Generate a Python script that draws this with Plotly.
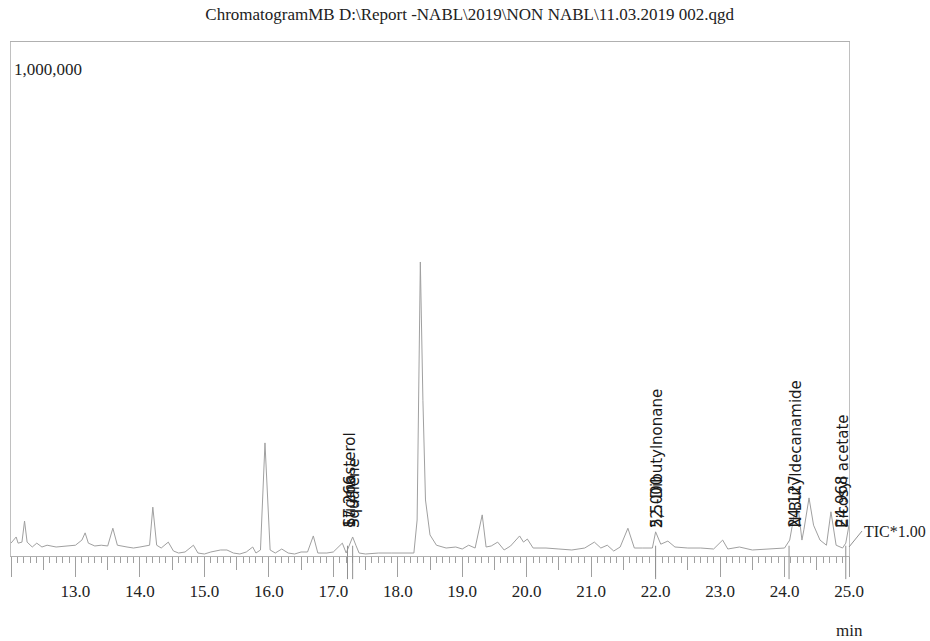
import plotly.graph_objects as go

# Retention time (min) and intensity
times = [12.00, 12.08, 12.11, 12.17, 12.21, 12.25, 12.33, 12.40, 12.48, 12.56, 12.70, 12.90,
         13.00, 13.10, 13.15, 13.20, 13.30, 13.40, 13.50, 13.58, 13.65, 13.80, 13.90, 14.00,
         14.10, 14.15, 14.20, 14.26, 14.33, 14.44, 14.52, 14.60, 14.70, 14.83, 14.90, 15.00,
         15.10, 15.25, 15.35, 15.45, 15.55, 15.65, 15.75, 15.80, 15.87, 15.94, 16.02, 16.10,
         16.20, 16.30, 16.40, 16.50, 16.60, 16.69, 16.76, 16.90, 17.00, 17.14, 17.20, 17.25,
         17.30, 17.35, 17.40, 17.50, 17.70, 17.90, 18.10, 18.25, 18.30, 18.35, 18.39, 18.43,
         18.50, 18.60, 18.75, 18.90, 19.00, 19.10, 19.20, 19.31, 19.37, 19.45, 19.55, 19.65,
         19.75, 19.89, 19.95, 20.01, 20.10, 20.30, 20.50, 20.70, 20.90, 21.05, 21.15, 21.25,
         21.35, 21.45, 21.57, 21.67, 21.80, 21.95, 22.00, 22.08, 22.19, 22.30, 22.50, 22.70,
         22.90, 23.04, 23.12, 23.30, 23.50, 23.70, 23.85, 24.00, 24.08, 24.15, 24.22, 24.27,
         24.30, 24.38, 24.45, 24.55, 24.65, 24.72, 24.80, 24.90, 24.95, 25.00]
intensity = [25000, 37000, 25000, 27000, 68000, 27000, 17500, 25000, 17500, 21000, 17500, 19500,
             21000, 31000, 45000, 25000, 19500, 21000, 19500, 54000, 21000, 17500, 15500, 17500,
             19500, 21000, 95000, 21000, 15500, 27000, 9700, 5800, 7800, 21000, 5800, 3900,
             7800, 11700, 11700, 5800, 3900, 7800, 17500, 5800, 11700, 220000, 11700, 5800,
             13600, 5800, 3900, 7800, 7800, 39000, 5800, 5800, 7800, 25000, 5800, 21000,
             37000, 21000, 5800, 3900, 5800, 5800, 5800, 5800, 70000, 572000, 303000, 109000,
             41000, 21000, 15500, 17500, 13600, 21000, 15500, 80000, 17500, 19500, 27000, 11700,
             19500, 39000, 27000, 33000, 15500, 15500, 13600, 11700, 15500, 27000, 15500, 21000,
             9700, 17500, 54000, 15500, 15500, 15500, 47000, 23000, 29000, 17500, 15500, 15500,
             13600, 31000, 13600, 17500, 11700, 13600, 13600, 15500, 31000, 80000, 84000, 31000,
             51000, 113000, 60000, 31000, 21000, 86000, 21000, 15500, 25000, 60000]

major_ticks = [12, 13, 14, 15, 16, 17, 18, 19, 20, 21, 22, 23, 24, 25]
major_labels = ["", "13.0", "14.0", "15.0", "16.0", "17.0", "18.0", "19.0", "20.0",
                "21.0", "22.0", "23.0", "24.0", "25.0"]
half_ticks = [12.5, 13.5, 14.5, 15.5, 16.5, 17.5, 18.5, 19.5, 20.5, 21.5, 22.5, 23.5, 24.5]

peak_names = ["Stigmasterol", "17.266", "Squalene", "5,5-Dibutylnonane", "22.000",
              "N-Butyldecanamide", "24.127", "Eicosyl acetate", "24.968"]
peak_times = [17.26, 17.27, 17.31, 22.03, 22.02, 24.18, 24.17, 24.91, 24.90]
marker_times = [17.22, 17.30, 22.00, 24.07, 24.95]

y_top = 1000000
label_level = 51000
title_text = "ChromatogramMB D:\\Report -NABL\\2019\\NON NABL\\11.03.2019 002.qgd"

fig = go.Figure()
fig.add_trace(go.Scatter(x=times, y=intensity, mode="lines",
                         line=dict(color="#a0a0a0", width=1), hoverinfo="skip",
                         showlegend=False))
# helper trace so the half-step tick axis is drawn
fig.add_trace(go.Scatter(x=times, y=intensity, mode="lines", xaxis="x2",
                         line=dict(color="rgba(0,0,0,0)", width=0), hoverinfo="skip",
                         showlegend=False))

serif = "Liberation Serif, Times New Roman, serif"

fig.update_layout(
    width=930, height=641,
    margin=dict(l=11, r=81, t=42, b=85),
    paper_bgcolor="white", plot_bgcolor="white",
    title=dict(text=title_text, x=0.505, xref="container", y=0.978, yref="container",
               xanchor="center", yanchor="middle",
               font=dict(family=serif, size=17, color="#222")),
    xaxis=dict(range=[12, 25], tickmode="array", tickvals=major_ticks, ticktext=major_labels,
               ticks="outside", ticklen=20, tickcolor="#a0a0a0", tickwidth=1,
               showline=True, linecolor="#b0b0b0", linewidth=1, mirror=True,
               showgrid=False, zeroline=False,
               tickfont=dict(family=serif, size=17, color="#222"),
               minor=dict(dtick=0.1, tick0=12, ticks="outside", ticklen=6,
                          tickcolor="#a0a0a0", showgrid=False)),
    xaxis2=dict(range=[12, 25], overlaying="x", anchor="y", side="bottom",
                tickmode="array", tickvals=half_ticks, ticks="outside", ticklen=13,
                tickcolor="#a0a0a0", showticklabels=False, showgrid=False,
                zeroline=False, showline=False),
    yaxis=dict(range=[0, y_top], showticklabels=False, ticks="", showgrid=False,
               zeroline=False, showline=True, linecolor="#c0c0c0", mirror=True),
)

annotations = [
    dict(text="1,000,000", xref="paper", yref="paper", x=0, y=1, xanchor="left",
         yanchor="top", xshift=1, yshift=-16, showarrow=False,
         font=dict(family=serif, size=17, color="#222")),
    dict(text="TIC*1.00", xref="x", yref="y", x=25, y=17500, ax=13, ay=-16,
         xanchor="left", yanchor="middle", showarrow=True, arrowhead=0, arrowwidth=1,
         arrowcolor="#909090", standoff=0,
         font=dict(family=serif, size=16, color="#222")),
    dict(text="min", xref="x", yref="paper", x=25, y=-0.144, xanchor="center",
         yanchor="middle", showarrow=False,
         font=dict(family=serif, size=17, color="#222")),
]
for name, t in zip(peak_names, peak_times):
    annotations.append(dict(text=name, x=t, y=label_level, xref="x", yref="y",
                            textangle=-90, xanchor="center", yanchor="bottom",
                            showarrow=False,
                            font=dict(family="DejaVu Sans, sans-serif", size=15,
                                      color="#1a1a1a")))
fig.update_layout(annotations=annotations)

shapes = []
for t in marker_times:
    shapes.append(dict(type="line", xref="x", yref="paper", x0=t, x1=t, y0=-0.045,
                       y1=0.02, line=dict(color="#909090", width=1)))
fig.update_layout(shapes=shapes)

fig.write_html("out.html", config={"displayModeBar": False},
               post_script="document.body.style.margin='0';")
